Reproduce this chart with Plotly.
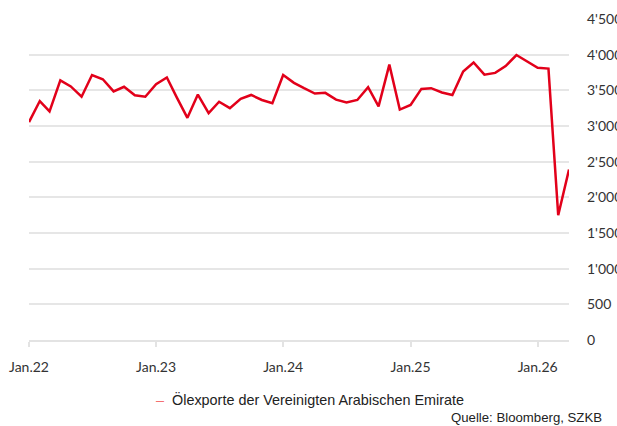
import plotly.graph_objects as go
import pandas as pd

dates = pd.date_range("2022-01-01", "2026-04-01", freq="MS").strftime("%Y-%m-%d").tolist()
values = [3055, 3350, 3205, 3640, 3555, 3410, 3715, 3655, 3485, 3550, 3430, 3410,
          3585, 3680, 3405, 3115, 3440, 3180, 3340, 3250, 3380, 3435, 3365, 3320,
          3715, 3605, 3530, 3455, 3465, 3370, 3330, 3365, 3545, 3275, 3860, 3230,
          3295, 3520, 3530, 3470, 3435, 3765, 3890, 3720, 3745, 3840, 3995, 3910,
          3815, 3805, 1750, 2390]
series_name = "Ölexporte der Vereinigten Arabischen Emirate"
source_text = "Quelle: Bloomberg, SZKB"
x_tickvals = ["2022-01-01", "2023-01-01", "2024-01-01", "2025-01-01", "2026-01-01"]
x_ticktext = ["Jan.22", "Jan.23", "Jan.24", "Jan.25", "Jan.26"]
y_tickvals = [0, 500, 1000, 1500, 2000, 2500, 3000, 3500, 4000, 4500]

W, H = 617, 426
# desired plot area in page pixels: x 29..569, y 18.5..340
ML = 29
MT = 18.5
MR = W - 569
MB = H - 340
pw = W - ML - MR
ph = H - MT - MB

def px_x(x):
    return (x - ML) / pw

def px_y(y):
    return (H - MB - y) / ph

fig = go.Figure()
fig.add_trace(go.Scatter(x=dates, y=values, mode="lines", name=series_name,
                         line=dict(color="#e2001a", width=2.5), showlegend=False))

text_family = "Liberation Sans Narrow, Arial Narrow, Liberation Sans, Arial, sans-serif"

fig.update_layout(
    width=W, height=H,
    margin=dict(l=ML, r=MR, t=MT, b=MB, autoexpand=False),
    paper_bgcolor="white", plot_bgcolor="white",
    separators=".'",
    font=dict(family="Lato, sans-serif", color="#333333", size=14),
    xaxis=dict(range=["2022-01-01", "2026-04-01"], tickvals=x_tickvals, ticktext=x_ticktext,
               showgrid=False, showline=True, linecolor="#e3e3e3", linewidth=1.5,
               ticks="outside", ticklen=5, tickcolor="#e3e3e3", tickwidth=1.5,
               ticklabelstandoff=8, zeroline=False, automargin=False,
               tickfont=dict(family="Lato, sans-serif", size=14, color="#333333")),
    yaxis=dict(range=[0, 4500], tickvals=y_tickvals, tickformat=",d", side="right",
               showgrid=True, gridcolor="#e6e6e6", gridwidth=1.5, zeroline=False,
               ticks="", ticklabelstandoff=17, automargin=False,
               tickfont=dict(family="Lato, sans-serif", size=14, color="#333333")),
    annotations=[
        dict(x=px_x(309.5), y=px_y(400), xref="paper", yref="paper", showarrow=False,
             text="<span style='color:#f47070'>–</span>  " + series_name,
             font=dict(family=text_family, size=14.4, color="#222222"),
             xanchor="center", yanchor="middle"),
        dict(x=px_x(604), y=px_y(418), xref="paper", yref="paper", showarrow=False,
             text=source_text, font=dict(family=text_family, size=13.2, color="#222222"),
             xanchor="right", yanchor="middle"),
    ],
)

fig.write_html("out.html", config={"displayModeBar": False},
               post_script="document.body.style.margin='0';document.body.style.overflow='hidden';")
